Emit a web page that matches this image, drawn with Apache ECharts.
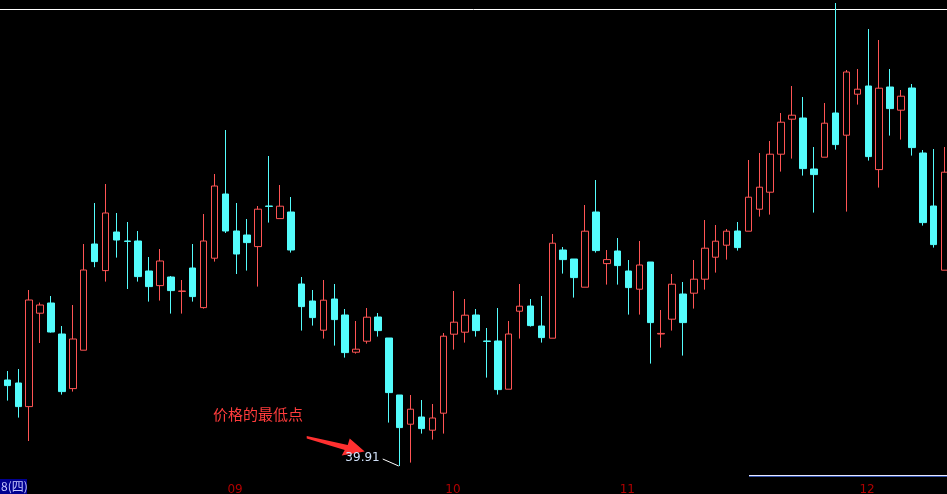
<!DOCTYPE html>
<html>
<head>
<meta charset="utf-8">
<script src="https://cdn.jsdelivr.net/npm/echarts@6/dist/echarts.min.js"></script>
<style>
html,body{margin:0;padding:0;background:#000;}
#c{width:947px;height:494px;}
</style>
</head>
<body>
<div id="c"></div>
<script>
// Trading dates (categories)
var dates = [
 '2021-08-04','2021-08-05','2021-08-06','2021-08-09','2021-08-10','2021-08-11','2021-08-12','2021-08-13','2021-08-16','2021-08-17',
 '2021-08-18','2021-08-19','2021-08-20','2021-08-23','2021-08-24','2021-08-25','2021-08-26','2021-08-27','2021-08-30','2021-08-31',
 '2021-09-01','2021-09-02','2021-09-03','2021-09-06','2021-09-07','2021-09-08','2021-09-09','2021-09-10','2021-09-13','2021-09-14',
 '2021-09-15','2021-09-16','2021-09-17','2021-09-22','2021-09-23','2021-09-24','2021-09-27','2021-09-28','2021-09-29','2021-09-30',
 '2021-10-08','2021-10-11','2021-10-12','2021-10-13','2021-10-14','2021-10-15','2021-10-18','2021-10-19','2021-10-20','2021-10-21',
 '2021-10-22','2021-10-25','2021-10-26','2021-10-27','2021-10-28','2021-10-29',
 '2021-11-01','2021-11-02','2021-11-03','2021-11-04','2021-11-05','2021-11-08','2021-11-09','2021-11-10','2021-11-11','2021-11-12',
 '2021-11-15','2021-11-16','2021-11-17','2021-11-18','2021-11-19','2021-11-22','2021-11-23','2021-11-24','2021-11-25','2021-11-26',
 '2021-11-29','2021-11-30',
 '2021-12-01','2021-12-02','2021-12-03','2021-12-06','2021-12-07','2021-12-08','2021-12-09','2021-12-10','2021-12-13'
];
var opens = [
 44.21,44.06,42.88,47.55,48.06,46.51,43.78,45.70,51.01,49.68,
 51.61,51.16,51.16,49.66,48.93,49.36,48.64,49.81,47.83,50.30,
 53.51,51.66,51.46,50.88,52.91,52.28,52.61,49.01,48.16,46.70,
 48.26,47.46,45.60,46.15,47.36,46.31,43.46,42.00,42.36,41.70,
 42.55,46.50,46.60,47.46,46.16,46.16,43.75,47.65,47.91,46.91,
 46.30,50.71,50.26,48.85,52.61,50.03,
 50.66,49.66,48.75,50.11,46.51,47.25,48.51,48.55,49.25,50.35,
 50.95,51.66,51.65,52.75,53.60,55.50,57.25,57.31,54.76,55.35,
 57.56,56.45,
 58.50,58.91,54.73,58.86,57.70,58.81,55.56,52.91,49.70
];
var closes = [
 43.93,42.88,48.21,47.96,46.61,43.63,46.26,49.71,50.13,52.56,
 51.21,51.14,49.38,48.88,50.16,48.68,48.66,48.38,51.16,53.91,
 51.66,50.51,51.08,52.75,52.89,52.90,50.71,47.88,47.33,48.20,
 47.23,45.58,45.75,47.35,46.68,43.58,41.83,42.75,41.78,42.31,
 46.40,47.10,47.45,46.68,46.14,43.73,46.51,47.90,46.93,46.33,
 51.05,50.23,49.33,51.65,50.68,50.23,
 49.93,48.83,49.96,47.08,46.54,49.00,47.08,49.25,50.80,51.15,
 51.65,50.83,53.35,53.85,55.50,57.10,57.45,54.78,54.48,57.05,
 55.98,59.61,
 58.75,55.38,58.80,57.78,58.40,55.83,52.08,50.98,54.60
];
var lows = [
 43.18,42.33,41.16,46.06,46.58,43.48,43.63,45.70,49.85,49.13,
 50.33,48.76,49.13,48.13,48.18,47.53,47.53,48.13,47.78,50.13,
 51.56,49.51,49.68,48.88,52.08,52.28,50.58,46.68,46.93,46.28,
 45.93,45.33,45.53,46.03,46.38,42.08,39.91,40.08,41.53,41.23,
 41.53,45.73,46.08,46.38,44.33,43.48,43.75,46.28,46.88,46.08,
 46.30,49.53,48.33,48.85,50.58,48.98,
 48.98,47.48,47.48,45.03,45.83,46.68,45.43,47.78,48.73,49.58,
 50.23,50.68,51.65,52.38,52.48,54.63,55.28,54.43,52.58,55.35,
 55.73,52.63,
 57.98,55.18,53.83,56.43,56.23,55.43,51.93,50.83,49.70
];
var highs = [
 44.66,44.76,48.71,48.08,48.41,46.91,47.96,51.01,53.06,54.01,
 52.56,52.11,51.66,50.36,50.76,49.41,49.21,51.01,52.51,54.51,
 56.71,53.06,52.26,52.91,55.41,53.96,53.36,49.36,48.71,49.21,
 49.01,47.76,47.16,47.81,47.56,46.31,43.46,43.46,43.21,43.01,
 46.56,48.66,48.26,47.76,46.81,47.81,47.16,49.01,48.26,48.41,
 51.51,50.86,50.26,52.96,54.21,50.71,
 51.31,50.21,51.16,50.11,47.71,49.51,49.11,50.21,52.21,51.96,
 51.76,52.11,55.21,55.56,56.16,57.56,58.91,58.36,55.86,58.06,
 63.06,59.71,
 59.76,61.76,61.21,59.76,58.71,59.01,55.71,55.76,55.86
];
var annotationText = '价格的最低点';
var cornerText = '8(四)';

var kData = [];
for (var i = 0; i < dates.length; i++) {
  kData.push([opens[i], closes[i], lows[i], highs[i]]);
}

var chart = echarts.init(document.getElementById('c'), null, {renderer: 'canvas'});

function isMonthStart(idx) {
  return idx > 0 && dates[idx].slice(5, 7) !== dates[idx - 1].slice(5, 7);
}

var option = {
  backgroundColor: '#000000',
  animation: false,
  grid: {left: 2, width: 948, top: 0, height: 480, outerBoundsMode: 'none', containLabel: false},
  xAxis: {
    type: 'category',
    data: dates,
    boundaryGap: true,
    axisLine: {show: false},
    axisTick: {show: false},
    splitLine: {show: false},
    axisLabel: {
      interval: function (idx) { return isMonthStart(idx); },
      formatter: function (v) { return v.slice(5, 7); },
      color: '#b00000',
      fontSize: 12,
      fontFamily: 'DejaVu Sans',
      align: 'left',
      padding: [0, 0, 0, 2],
      margin: 4
    }
  },
  yAxis: {
    type: 'value',
    min: 39.21,
    max: 63.21,
    show: false,
    splitLine: {show: false}
  },
  series: [{
    type: 'candlestick',
    data: kData,
    barWidth: 7,
    itemStyle: {
      color: '#000000',
      color0: '#54fcfc',
      borderColor: '#ff5454',
      borderColor0: '#54fcfc',
      borderWidth: 1
    }
  }]
};
chart.setOption(option);

// locate the lowest point from the data
var minIdx = 0;
for (var j = 1; j < lows.length; j++) { if (lows[j] < lows[minIdx]) minIdx = j; }
var p = chart.convertToPixel({gridIndex: 0}, [minIdx, lows[minIdx]]);
var px = p[0], py = p[1];

chart.setOption({
  graphic: [
    {type: 'line', shape: {x1: 0, y1: 9.5, x2: 947, y2: 9.5}, style: {stroke: '#ffffff', lineWidth: 1}, z: 0},
    {type: 'line', shape: {x1: 749, y1: 475.5, x2: 947, y2: 475.5}, style: {stroke: '#e8e8ff', lineWidth: 1}},
    {type: 'line', shape: {x1: 749, y1: 476.5, x2: 947, y2: 476.5}, style: {stroke: '#3050a8', lineWidth: 1}},
    {type: 'rect', shape: {x: 0, y: 479, width: 27, height: 15}, style: {fill: '#000090'}},
    {type: 'text', x: 1, y: 480, style: {text: cornerText, fill: '#c8c8ff', font: '12px "Noto Sans CJK SC"'}},
    {type: 'text', x: 213, y: 407, style: {text: annotationText, fill: '#ff3c3c', font: '15px "Noto Sans CJK SC"'}},
    {type: 'polygon', shape: {points: [
      [px - 93, py - 30], [px - 52, py - 21], [px - 50, py - 27.5], [px - 35, py - 14.5],
      [px - 58, py - 10.5], [px - 55, py - 16], [px - 93, py - 27.5]
    ]}, style: {fill: '#ff3030'}},
    {type: 'text', x: px - 20, y: py - 8, style: {text: lows[minIdx].toFixed(2), fill: '#d0e0f8', font: '12px "DejaVu Sans"', align: 'right', verticalAlign: 'middle'}},
    {type: 'line', shape: {x1: px - 17, y1: py - 7, x2: px - 1, y2: py}, style: {stroke: '#ffffff', lineWidth: 1}}
  ]
});
</script>
</body>
</html>
